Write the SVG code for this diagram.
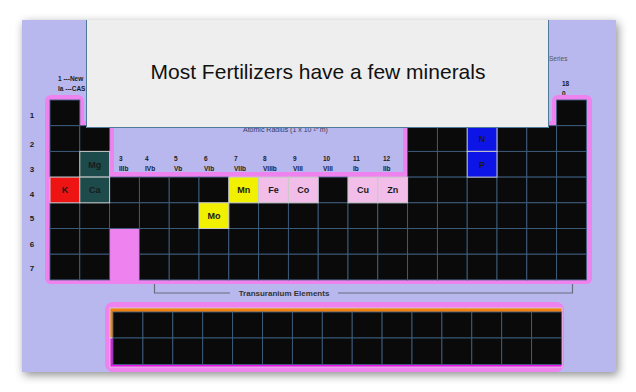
<svg xmlns="http://www.w3.org/2000/svg" width="636" height="392" viewBox="0 0 636 392">
<defs>
<filter id="sh" x="-10%" y="-10%" width="120%" height="125%">
<feDropShadow dx="2" dy="3" stdDeviation="5" flood-color="#000" flood-opacity="0.45"/>
</filter>
<style>
.c{fill:#0a0a0a;stroke:#3d5f7f;stroke-width:0.9}
.pk{fill:#ee82ee}
.t{font-family:"Liberation Sans",Arial,sans-serif;font-weight:bold;fill:#1a1a1a}
.sm{font-size:6.5px}
.el{font-size:9px;text-anchor:middle}
.rl{font-size:8px;text-anchor:middle}
.hl{stroke:#c8c8c8;stroke-width:1}
</style>
</defs>
<rect width="636" height="392" fill="#ffffff"/>
<rect id="panel" x="22" y="20" width="594" height="352" fill="#b8b8ee" filter="url(#sh)"/>

<g id="top-labels">
<text class="t sm" x="58" y="81">1 ---New</text>
<text class="t sm" x="58" y="91">Ia ---CAS</text>
<text x="549" y="61" font-family="Liberation Sans,Arial,sans-serif" font-size="6.5" fill="#555">Series</text>
<text class="t sm" x="562" y="86">18</text>
<text class="t sm" x="562" y="96">0</text>
<text x="243" y="131.5" font-family="Liberation Sans,Arial,sans-serif" font-size="7" fill="#3a3a5a">Atomic Radius (1 x 10⁻¹⁰ m)</text>
</g>

<g id="row-labels">
<text class="t rl" x="32" y="118">1</text>
<text class="t rl" x="32" y="147">2</text>
<text class="t rl" x="32" y="172">3</text>
<text class="t rl" x="32" y="197">4</text>
<text class="t rl" x="32" y="221">5</text>
<text class="t rl" x="32" y="247">6</text>
<text class="t rl" x="32" y="271">7</text>
</g>

<g id="group-labels" class="t sm">
<text x="119" y="161">3</text><text x="119" y="171">IIIb</text>
<text x="145" y="161">4</text><text x="145" y="171">IVb</text>
<text x="174" y="161">5</text><text x="174" y="171">Vb</text>
<text x="204" y="161">6</text><text x="204" y="171">VIb</text>
<text x="234" y="161">7</text><text x="234" y="171">VIIb</text>
<text x="263" y="161">8</text><text x="263" y="171">VIIIb</text>
<text x="293" y="161">9</text><text x="293" y="171">VIII</text>
<text x="323" y="161">10</text><text x="323" y="171">VIII</text>
<text x="353" y="161">11</text><text x="353" y="171">Ib</text>
<text x="383" y="161">12</text><text x="383" y="171">IIb</text>
</g>

<g id="table-outline">
<rect class="pk" x="45" y="95" width="39" height="40" rx="6"/>
<rect class="pk" x="45" y="121" width="69" height="163" rx="6"/>
<rect class="pk" x="45" y="172" width="547" height="112" rx="6"/>
<rect class="pk" x="403" y="121" width="189" height="163" rx="6"/>
<rect class="pk" x="552" y="95" width="40" height="40" rx="6"/>
</g>

<g id="main-cells">
<rect class="c" x="50" y="100" width="29.8" height="25.7"/>
<rect class="c" x="556.6" y="100" width="29.8" height="25.7"/>
<rect class="c" x="50" y="125.7" width="29.8" height="25.7"/>
<rect class="c" x="79.8" y="125.7" width="29.8" height="25.7"/>
<rect class="c" x="407.6" y="125.7" width="29.8" height="25.7"/>
<rect class="c" x="437.4" y="125.7" width="29.8" height="25.7"/>
<rect class="c" x="497" y="125.7" width="29.8" height="25.7"/>
<rect class="c" x="526.8" y="125.7" width="29.8" height="25.7"/>
<rect class="c" x="556.6" y="125.7" width="29.8" height="25.7"/>
<rect class="c" x="50" y="151.4" width="29.8" height="25.7"/>
<rect class="c" x="407.6" y="151.4" width="29.8" height="25.7"/>
<rect class="c" x="437.4" y="151.4" width="29.8" height="25.7"/>
<rect class="c" x="497" y="151.4" width="29.8" height="25.7"/>
<rect class="c" x="526.8" y="151.4" width="29.8" height="25.7"/>
<rect class="c" x="556.6" y="151.4" width="29.8" height="25.7"/>
<rect class="c" x="109.6" y="177.1" width="29.8" height="25.7"/>
<rect class="c" x="139.4" y="177.1" width="29.8" height="25.7"/>
<rect class="c" x="169.2" y="177.1" width="29.8" height="25.7"/>
<rect class="c" x="199" y="177.1" width="29.8" height="25.7"/>
<rect class="c" x="318.2" y="177.1" width="29.8" height="25.7"/>
<rect class="c" x="407.6" y="177.1" width="29.8" height="25.7"/>
<rect class="c" x="437.4" y="177.1" width="29.8" height="25.7"/>
<rect class="c" x="467.2" y="177.1" width="29.8" height="25.7"/>
<rect class="c" x="497" y="177.1" width="29.8" height="25.7"/>
<rect class="c" x="526.8" y="177.1" width="29.8" height="25.7"/>
<rect class="c" x="556.6" y="177.1" width="29.8" height="25.7"/>
<rect class="c" x="50" y="202.8" width="29.8" height="25.7"/>
<rect class="c" x="79.8" y="202.8" width="29.8" height="25.7"/>
<rect class="c" x="109.6" y="202.8" width="29.8" height="25.7"/>
<rect class="c" x="139.4" y="202.8" width="29.8" height="25.7"/>
<rect class="c" x="169.2" y="202.8" width="29.8" height="25.7"/>
<rect class="c" x="228.8" y="202.8" width="29.8" height="25.7"/>
<rect class="c" x="258.6" y="202.8" width="29.8" height="25.7"/>
<rect class="c" x="288.4" y="202.8" width="29.8" height="25.7"/>
<rect class="c" x="318.2" y="202.8" width="29.8" height="25.7"/>
<rect class="c" x="348" y="202.8" width="29.8" height="25.7"/>
<rect class="c" x="377.8" y="202.8" width="29.8" height="25.7"/>
<rect class="c" x="407.6" y="202.8" width="29.8" height="25.7"/>
<rect class="c" x="437.4" y="202.8" width="29.8" height="25.7"/>
<rect class="c" x="467.2" y="202.8" width="29.8" height="25.7"/>
<rect class="c" x="497" y="202.8" width="29.8" height="25.7"/>
<rect class="c" x="526.8" y="202.8" width="29.8" height="25.7"/>
<rect class="c" x="556.6" y="202.8" width="29.8" height="25.7"/>
<rect class="c" x="50" y="228.5" width="29.8" height="25.7"/>
<rect class="c" x="79.8" y="228.5" width="29.8" height="25.7"/>
<rect class="c" x="139.4" y="228.5" width="29.8" height="25.7"/>
<rect class="c" x="169.2" y="228.5" width="29.8" height="25.7"/>
<rect class="c" x="199" y="228.5" width="29.8" height="25.7"/>
<rect class="c" x="228.8" y="228.5" width="29.8" height="25.7"/>
<rect class="c" x="258.6" y="228.5" width="29.8" height="25.7"/>
<rect class="c" x="288.4" y="228.5" width="29.8" height="25.7"/>
<rect class="c" x="318.2" y="228.5" width="29.8" height="25.7"/>
<rect class="c" x="348" y="228.5" width="29.8" height="25.7"/>
<rect class="c" x="377.8" y="228.5" width="29.8" height="25.7"/>
<rect class="c" x="407.6" y="228.5" width="29.8" height="25.7"/>
<rect class="c" x="437.4" y="228.5" width="29.8" height="25.7"/>
<rect class="c" x="467.2" y="228.5" width="29.8" height="25.7"/>
<rect class="c" x="497" y="228.5" width="29.8" height="25.7"/>
<rect class="c" x="526.8" y="228.5" width="29.8" height="25.7"/>
<rect class="c" x="556.6" y="228.5" width="29.8" height="25.7"/>
<rect class="c" x="50" y="254.2" width="29.8" height="25.7"/>
<rect class="c" x="79.8" y="254.2" width="29.8" height="25.7"/>
<rect class="c" x="139.4" y="254.2" width="29.8" height="25.7"/>
<rect class="c" x="169.2" y="254.2" width="29.8" height="25.7"/>
<rect class="c" x="199" y="254.2" width="29.8" height="25.7"/>
<rect class="c" x="228.8" y="254.2" width="29.8" height="25.7"/>
<rect class="c" x="258.6" y="254.2" width="29.8" height="25.7"/>
<rect class="c" x="288.4" y="254.2" width="29.8" height="25.7"/>
<rect class="c" x="318.2" y="254.2" width="29.8" height="25.7"/>
<rect class="c" x="348" y="254.2" width="29.8" height="25.7"/>
<rect class="c" x="377.8" y="254.2" width="29.8" height="25.7"/>
<rect class="c" x="407.6" y="254.2" width="29.8" height="25.7"/>
<rect class="c" x="437.4" y="254.2" width="29.8" height="25.7"/>
<rect class="c" x="467.2" y="254.2" width="29.8" height="25.7"/>
<rect class="c" x="497" y="254.2" width="29.8" height="25.7"/>
<rect class="c" x="526.8" y="254.2" width="29.8" height="25.7"/>
<rect class="c" x="556.6" y="254.2" width="29.8" height="25.7"/>
</g>

<g id="el-Mg"><rect class="hl" x="79.8" y="151.4" width="29.8" height="25.7" fill="#1d4a4a"/><text class="t el" x="94.7" y="167.5" fill="#0d2626">Mg</text></g>
<g id="el-K"><rect class="hl" x="50" y="177.1" width="29.8" height="25.7" fill="#ee1414"/><text class="t el" x="64.9" y="193.2">K</text></g>
<g id="el-Ca"><rect class="hl" x="79.8" y="177.1" width="29.8" height="25.7" fill="#1d4a4a"/><text class="t el" x="94.7" y="193.2" fill="#0d2626">Ca</text></g>
<g id="el-Mn"><rect class="hl" x="228.8" y="177.1" width="29.8" height="25.7" fill="#f0f000"/><text class="t el" x="243.7" y="193.2">Mn</text></g>
<g id="el-Fe"><rect class="hl" x="258.6" y="177.1" width="29.8" height="25.7" fill="#f2bde8"/><text class="t el" x="273.5" y="193.2">Fe</text></g>
<g id="el-Co"><rect class="hl" x="288.4" y="177.1" width="29.8" height="25.7" fill="#f2bde8"/><text class="t el" x="303.3" y="193.2">Co</text></g>
<g id="el-Cu"><rect class="hl" x="348" y="177.1" width="29.8" height="25.7" fill="#f2bde8"/><text class="t el" x="362.9" y="193.2">Cu</text></g>
<g id="el-Zn"><rect class="hl" x="377.8" y="177.1" width="29.8" height="25.7" fill="#f2bde8"/><text class="t el" x="392.7" y="193.2">Zn</text></g>
<g id="el-Mo"><rect class="hl" x="199" y="202.8" width="29.8" height="25.7" fill="#f0f000"/><text class="t el" x="213.9" y="218.9">Mo</text></g>
<g id="el-N"><rect class="hl" x="467.2" y="125.7" width="29.8" height="25.7" fill="#0c14e6"/><text class="t el" x="482.1" y="141.8">N</text></g>
<g id="el-P"><rect class="hl" x="467.2" y="151.4" width="29.8" height="25.7" fill="#0c14e6"/><text class="t el" x="482.1" y="167.5">P</text></g>

<g id="transuranium">
<path d="M154.5 284 V293 H230 M338 293 H572.5 V284" fill="none" stroke="#6a6a7a" stroke-width="1.2"/>
<text x="284" y="296" text-anchor="middle" font-family="Liberation Sans,Arial,sans-serif" font-weight="bold" font-size="8" fill="#333">Transuranium Elements</text>
</g>

<g id="f-block">
<rect class="pk" x="105" y="302" width="459" height="70" rx="8"/>
<rect x="110" y="308" width="452" height="30" fill="#f08010" stroke="#d8d8d8" stroke-width="0.8"/>
<rect x="110" y="338" width="452" height="29" fill="#ee10ee" stroke="#d8d8d8" stroke-width="0.8"/>
<rect class="c" x="113" y="312" width="29.9" height="26"/>
<rect class="c" x="142.9" y="312" width="29.9" height="26"/>
<rect class="c" x="172.8" y="312" width="29.9" height="26"/>
<rect class="c" x="202.7" y="312" width="29.9" height="26"/>
<rect class="c" x="232.6" y="312" width="29.9" height="26"/>
<rect class="c" x="262.5" y="312" width="29.9" height="26"/>
<rect class="c" x="292.4" y="312" width="29.9" height="26"/>
<rect class="c" x="322.3" y="312" width="29.9" height="26"/>
<rect class="c" x="352.2" y="312" width="29.9" height="26"/>
<rect class="c" x="382.1" y="312" width="29.9" height="26"/>
<rect class="c" x="412" y="312" width="29.9" height="26"/>
<rect class="c" x="441.9" y="312" width="29.9" height="26"/>
<rect class="c" x="471.8" y="312" width="29.9" height="26"/>
<rect class="c" x="501.7" y="312" width="29.9" height="26"/>
<rect class="c" x="531.6" y="312" width="29.9" height="26"/>
<rect class="c" x="113" y="338" width="29.9" height="26.5"/>
<rect class="c" x="142.9" y="338" width="29.9" height="26.5"/>
<rect class="c" x="172.8" y="338" width="29.9" height="26.5"/>
<rect class="c" x="202.7" y="338" width="29.9" height="26.5"/>
<rect class="c" x="232.6" y="338" width="29.9" height="26.5"/>
<rect class="c" x="262.5" y="338" width="29.9" height="26.5"/>
<rect class="c" x="292.4" y="338" width="29.9" height="26.5"/>
<rect class="c" x="322.3" y="338" width="29.9" height="26.5"/>
<rect class="c" x="352.2" y="338" width="29.9" height="26.5"/>
<rect class="c" x="382.1" y="338" width="29.9" height="26.5"/>
<rect class="c" x="412" y="338" width="29.9" height="26.5"/>
<rect class="c" x="441.9" y="338" width="29.9" height="26.5"/>
<rect class="c" x="471.8" y="338" width="29.9" height="26.5"/>
<rect class="c" x="501.7" y="338" width="29.9" height="26.5"/>
<rect class="c" x="531.6" y="338" width="29.9" height="26.5"/>
</g>

<g id="title-box">
<rect x="86" y="20" width="463" height="108" fill="#eeeeee"/>
<path d="M86.5 20 V127.5 H548.5 V20" fill="none" stroke="#4f7a9a" stroke-width="1"/>
<text x="318" y="79" text-anchor="middle" font-family="Liberation Sans,Arial,sans-serif" font-size="21" fill="#111">Most Fertilizers have a few minerals</text>
</g>
</svg>
